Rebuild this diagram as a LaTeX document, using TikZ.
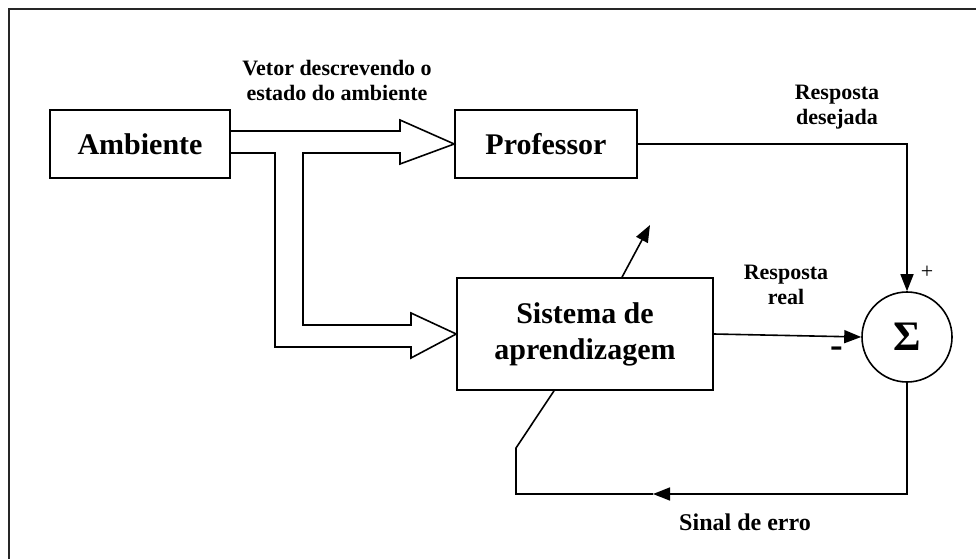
\documentclass[tikz,border=0pt]{standalone}
\usepackage{fontspec}
\setmainfont{Liberation Serif}
\usetikzlibrary{arrows.meta,calc}
\begin{document}
\begin{tikzpicture}[x=1pt,y=-1pt,
  line width=1.6pt,
  blockbox/.style={draw,rectangle,inner sep=0pt,align=center,
     font=\fontsize{30}{36}\selectfont\bfseries},
  lbl/.style={align=center,inner sep=0pt,font=\fontsize{22}{25}\selectfont\bfseries},
  sig/.style={-{Triangle[length=17pt,width=13pt]}}]
\useasboundingbox (0,0) rectangle (976,559);
% frame (only top and left edges visible)
\draw[line width=1.8pt,black!85] (9,559) -- (9,9) -- (976,9);
% blocks
\node[blockbox,minimum width=180,minimum height=68] (amb) at (140,144) {Ambiente};
\node[blockbox,minimum width=182,minimum height=68] (prof) at (546,144) {Professor};
\node[blockbox,minimum width=256,minimum height=112] (sis) at (585,334) {Sistema de\\aprendizagem};
\node[draw,circle,minimum size=90,inner sep=0pt,font=\fontsize{42}{42}\selectfont\bfseries] (sum) at (907,337) {Σ};
% fat double arrow from Ambiente to Professor and Sistema
\draw[line join=miter] (amb.east |- 0,131) -- (400,131) -- (400,120) -- (prof.west)
  -- (400,164) -- (400,153) -- (303,153) -- (303,325) -- (411,325) -- (411,313)
  -- (sis.west) -- (411,358) -- (411,347) -- (275,347) -- (275,153) -- (amb.east |- 0,153);
% labels
\node[lbl] (vet) at (337,80) {Vetor descrevendo o\\estado do ambiente};
\node[lbl] (rdes) at (837,107) {Resposta\\desejada};
\node[lbl] (rreal) at (786,285) {Resposta\\real};
\node[lbl,font=\fontsize{24}{26}\selectfont\bfseries] (erro) at (745,522) {Sinal de erro};
\node[inner sep=0pt,font=\fontsize{22}{22}\selectfont] (plus) at (927,272) {+};
\node[inner sep=0pt,font=\fontsize{38}{38}\selectfont\bfseries] (minus) at (837,352) {-};
% connectors
\draw[sig] (prof.east) -| (sum.north);
\draw[sig] (sis.east) -- (sum.west);
\coordinate (tip) at (650,225);
\draw[sig] (622,0 |- sis.north) -- (tip);
\coordinate (ah) at (653,494);
\draw[sig] (sum.south) |- (ah);
\draw (ah) -- (516,494) -- (516,448) -- (554,0 |- sis.south);
\end{tikzpicture}
\end{document}
